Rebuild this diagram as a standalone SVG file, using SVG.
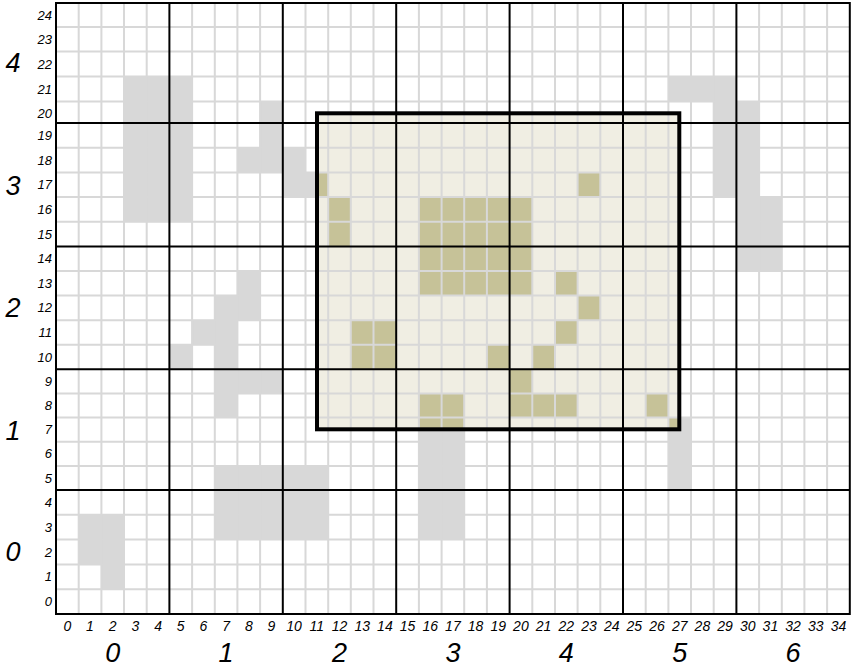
<svg xmlns="http://www.w3.org/2000/svg" width="852" height="668" viewBox="0 0 852 668">
<style>
.minor{stroke:#d8d8d8;stroke-width:2;fill:none}
.major{stroke:#000;stroke-width:2;fill:none}
.gray{fill:#d8d8d8}
.olive{fill:#c6c298}
.sel{fill:#f0eee3}
.selb{fill:none;stroke:#000;stroke-width:4}
text{font-family:"Liberation Sans",Arial,sans-serif;font-style:italic;fill:#000}
.rl{font-size:13px;text-anchor:end}
.cl{font-size:14px;text-anchor:middle}
.big{font-size:27px;text-anchor:middle}
</style>
<defs>
<clipPath id="selclip"><rect x="317" y="113.3" width="362.3" height="316"/></clipPath>
</defs>
<rect width="852" height="668" fill="#fff"/>
<g id="gray-cells" class="gray">
<rect x="78.7" y="514.8" width="45.4" height="49.6"/>
<rect x="101.4" y="564.4" width="22.7" height="24.8"/>
<rect x="124" y="76.5" width="68.1" height="145.3"/>
<rect x="260.1" y="101.5" width="22.7" height="70.9"/>
<rect x="237.4" y="147.7" width="68.1" height="24.7"/>
<rect x="282.8" y="172.4" width="45.4" height="24.7"/>
<rect x="237.4" y="271.1" width="22.7" height="49.1"/>
<rect x="214.8" y="295.6" width="22.7" height="122"/>
<rect x="192.1" y="320.2" width="22.7" height="24.5"/>
<rect x="169.4" y="344.7" width="22.7" height="24.6"/>
<rect x="237.4" y="369.3" width="45.4" height="24.1"/>
<rect x="214.8" y="465.9" width="113.4" height="73.7"/>
<rect x="418.9" y="417.6" width="45.4" height="122"/>
<rect x="668.4" y="417.6" width="22.7" height="72.4"/>
<rect x="668.4" y="76.5" width="68" height="25"/>
<rect x="713.7" y="101.5" width="22.7" height="95.6"/>
<rect x="736.4" y="101.5" width="22.7" height="169.6"/>
<rect x="759.1" y="197.1" width="22.7" height="74"/>
</g>
<g id="selection">
<rect class="sel" x="317" y="113.3" width="362.3" height="316"/>
<g id="selected-cells" class="olive" clip-path="url(#selclip)">
<rect x="305.5" y="172.4" width="22.7" height="24.7"/>
<rect x="328.2" y="197.1" width="22.7" height="49.4"/>
<rect x="418.9" y="197.1" width="113.4" height="98.5"/>
<rect x="577.6" y="172.4" width="22.7" height="24.7"/>
<rect x="555" y="271.1" width="22.7" height="24.5"/>
<rect x="577.6" y="295.6" width="22.7" height="24.6"/>
<rect x="555" y="320.2" width="22.7" height="24.5"/>
<rect x="350.8" y="320.2" width="45.4" height="49.1"/>
<rect x="486.9" y="344.7" width="22.7" height="24.6"/>
<rect x="532.3" y="344.7" width="22.7" height="24.6"/>
<rect x="509.6" y="369.3" width="22.7" height="24.1"/>
<rect x="509.6" y="393.4" width="68" height="24.2"/>
<rect x="645.7" y="393.4" width="22.7" height="24.2"/>
<rect x="418.9" y="393.4" width="45.4" height="48.3"/>
<rect x="668.4" y="417.6" width="22.7" height="24.1"/>
</g>
</g>
<g id="grid">
<path class="minor" d="M78.7 3V614M101.4 3V614M124 3V614M146.7 3V614M192.1 3V614M214.8 3V614M237.4 3V614M260.1 3V614M305.5 3V614M328.2 3V614M350.8 3V614M373.5 3V614M418.9 3V614M441.6 3V614M464.2 3V614M486.9 3V614M532.3 3V614M555 3V614M577.6 3V614M600.3 3V614M645.7 3V614M668.4 3V614M691 3V614M713.7 3V614M759.1 3V614M781.8 3V614M804.4 3V614M827.1 3V614"/>
<path class="minor" d="M56 589.2H849.8M56 564.4H849.8M56 539.6H849.8M56 514.8H849.8M56 465.9H849.8M56 441.7H849.8M56 417.6H849.8M56 393.4H849.8M56 344.7H849.8M56 320.2H849.8M56 295.6H849.8M56 271.1H849.8M56 221.8H849.8M56 197.1H849.8M56 172.4H849.8M56 147.7H849.8M56 101.5H849.8M56 76.5H849.8M56 51.5H849.8M56 27H849.8"/>
<path class="major" d="M169.4 3V614M282.8 3V614M396.2 3V614M509.6 3V614M623 3V614M736.4 3V614M56 490H849.8M56 369.3H849.8M56 246.5H849.8M56 123H849.8"/>
<rect class="major" x="56" y="3" width="793.8" height="611"/>
</g>
<rect id="selection-border" class="selb" x="317" y="113.3" width="362.3" height="316"/>
<g id="row-labels" class="rl">
<text x="52" y="606">0</text>
<text x="52" y="581.3">1</text>
<text x="52" y="556.5">2</text>
<text x="52" y="531.7">3</text>
<text x="52" y="506.9">4</text>
<text x="52" y="482.5">5</text>
<text x="52" y="458.3">6</text>
<text x="52" y="434.2">7</text>
<text x="52" y="410">8</text>
<text x="52" y="385.9">9</text>
<text x="52" y="361.5">10</text>
<text x="52" y="337">11</text>
<text x="52" y="312.4">12</text>
<text x="52" y="287.9">13</text>
<text x="52" y="263.3">14</text>
<text x="52" y="238.7">15</text>
<text x="52" y="214">16</text>
<text x="52" y="189.3">17</text>
<text x="52" y="164.6">18</text>
<text x="52" y="139.9">19</text>
<text x="52" y="117.5">20</text>
<text x="52" y="94">21</text>
<text x="52" y="69">22</text>
<text x="52" y="44">23</text>
<text x="52" y="20">24</text>
</g>
<g id="col-labels" class="cl">
<text x="67.3" y="631">0</text>
<text x="90" y="631">1</text>
<text x="112.7" y="631">2</text>
<text x="135.4" y="631">3</text>
<text x="158.1" y="631">4</text>
<text x="180.7" y="631">5</text>
<text x="203.4" y="631">6</text>
<text x="226.1" y="631">7</text>
<text x="248.8" y="631">8</text>
<text x="271.5" y="631">9</text>
<text x="294.1" y="631">10</text>
<text x="316.8" y="631">11</text>
<text x="339.5" y="631">12</text>
<text x="362.2" y="631">13</text>
<text x="384.9" y="631">14</text>
<text x="407.5" y="631">15</text>
<text x="430.2" y="631">16</text>
<text x="452.9" y="631">17</text>
<text x="475.6" y="631">18</text>
<text x="498.3" y="631">19</text>
<text x="520.9" y="631">20</text>
<text x="543.6" y="631">21</text>
<text x="566.3" y="631">22</text>
<text x="589" y="631">23</text>
<text x="611.7" y="631">24</text>
<text x="634.3" y="631">25</text>
<text x="657" y="631">26</text>
<text x="679.7" y="631">27</text>
<text x="702.4" y="631">28</text>
<text x="725.1" y="631">29</text>
<text x="747.7" y="631">30</text>
<text x="770.4" y="631">31</text>
<text x="793.1" y="631">32</text>
<text x="815.8" y="631">33</text>
<text x="838.5" y="631">34</text>
</g>
<g id="block-row-labels" class="big">
<text x="13" y="72">4</text>
<text x="13" y="195">3</text>
<text x="13" y="317">2</text>
<text x="13" y="440">1</text>
<text x="13" y="561">0</text>
</g>
<g id="block-col-labels" class="big">
<text x="112.7" y="662">0</text>
<text x="226.1" y="662">1</text>
<text x="339.5" y="662">2</text>
<text x="452.9" y="662">3</text>
<text x="566.3" y="662">4</text>
<text x="679.7" y="662">5</text>
<text x="793.1" y="662">6</text>
</g>
</svg>
